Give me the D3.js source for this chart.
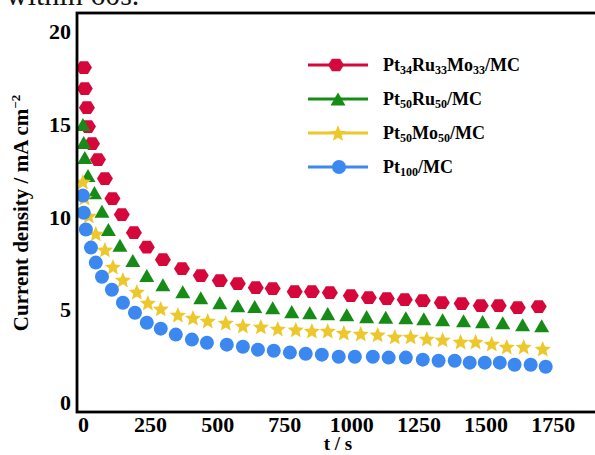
<!DOCTYPE html>
<html>
<head>
<meta charset="utf-8">
<script src="https://cdn.jsdelivr.net/npm/d3@7/dist/d3.min.js"></script>
<style>
  html, body { margin: 0; padding: 0; background: #fff; }
  svg { display: block; }
  text { font-family: "Liberation Serif", "Times New Roman", serif; }
</style>
</head>
<body>
<svg id="chart" width="595" height="455"></svg>
<script>
// Chronoamperometry curves: current density (mA cm^-2) against time (s)
const seriesNames = ["Pt34Ru33Mo33/MC", "Pt50Ru50/MC", "Pt50Mo50/MC", "Pt100/MC"];
const seriesColors = ["#d6083b", "#168c16", "#ecc82c", "#3b88f0"];

const tPtRuMo = [4, 7, 15, 19, 34, 56, 82, 110, 145, 190, 238, 298, 369, 439, 510, 577, 644, 707, 789, 853, 920, 998, 1065, 1132, 1199, 1266, 1337, 1411, 1482, 1549, 1620, 1698];
const jPtRuMo = [18.06, 16.93, 15.90, 14.88, 13.96, 13.10, 12.08, 11.00, 10.14, 9.16, 8.38, 7.71, 7.22, 6.85, 6.58, 6.42, 6.20, 6.15, 5.98, 5.98, 5.93, 5.77, 5.66, 5.61, 5.55, 5.50, 5.39, 5.34, 5.23, 5.23, 5.12, 5.18];

const tPtRu = [0, 3, 7, 19, 43, 71, 95, 138, 186, 238, 298, 372, 439, 510, 577, 640, 707, 778, 845, 912, 983, 1057, 1128, 1203, 1270, 1340, 1418, 1489, 1564, 1638, 1709];
const jPtRu = [14.99, 14.02, 13.21, 12.24, 11.32, 10.32, 9.33, 8.49, 7.66, 6.85, 6.36, 5.98, 5.66, 5.39, 5.23, 5.18, 5.12, 4.91, 4.85, 4.80, 4.74, 4.64, 4.61, 4.58, 4.53, 4.47, 4.42, 4.37, 4.31, 4.20, 4.15];

const tPtMo = [0, 6, 22, 48, 82, 112, 149, 201, 242, 290, 354, 410, 465, 532, 596, 663, 726, 793, 853, 912, 972, 1035, 1098, 1162, 1221, 1281, 1340, 1407, 1463, 1523, 1579, 1642, 1713];
const jPtMo = [11.91, 11.05, 10.08, 9.11, 8.25, 7.33, 6.63, 5.98, 5.39, 5.07, 4.74, 4.58, 4.42, 4.31, 4.15, 4.10, 3.99, 3.94, 3.88, 3.88, 3.77, 3.72, 3.67, 3.56, 3.56, 3.45, 3.40, 3.29, 3.29, 3.18, 3.02, 3.02, 2.91];

const tPt = [0, 3, 11, 30, 48, 71, 108, 149, 194, 238, 290, 346, 406, 462, 536, 596, 652, 711, 771, 830, 890, 953, 1013, 1080, 1139, 1203, 1266, 1325, 1385, 1441, 1497, 1553, 1608, 1668, 1724];
const jPt = [11.16, 10.24, 9.33, 8.36, 7.55, 6.79, 6.09, 5.39, 4.85, 4.31, 3.99, 3.67, 3.40, 3.23, 3.13, 3.02, 2.86, 2.80, 2.70, 2.64, 2.59, 2.48, 2.48, 2.48, 2.43, 2.43, 2.32, 2.26, 2.26, 2.16, 2.16, 2.16, 2.05, 2.05, 1.94];

const xTicks = [0, 250, 500, 750, 1000, 1250, 1500, 1750];
const yTicks = [0, 5, 10, 15, 20];

// marker shapes drawn around their visual centre
const hexagon = { draw(ctx, size) {
  const r = Math.sqrt(size);
  for (let i = 0; i < 6; i++) {
    const a = i * Math.PI / 3;
    const px = r * Math.cos(a), py = r * Math.sin(a) * 0.92;
    i ? ctx.lineTo(px, py) : ctx.moveTo(px, py);
  }
  ctx.closePath();
}};
const triangle = { draw(ctx, size) {
  const w = Math.sqrt(size), h = w * 0.87;
  ctx.moveTo(0, -h / 2); ctx.lineTo(w / 2, h / 2); ctx.lineTo(-w / 2, h / 2); ctx.closePath();
}};
const star = { draw(ctx, size) {
  const R = Math.sqrt(size), rIn = R * 0.45;
  for (let i = 0; i < 10; i++) {
    const rr = i % 2 ? rIn : R;
    const a = -Math.PI / 2 + i * Math.PI / 5;
    const px = rr * Math.cos(a), py = rr * Math.sin(a) + R * 0.1;
    i ? ctx.lineTo(px, py) : ctx.moveTo(px, py);
  }
  ctx.closePath();
}};
const circle = { draw(ctx, size) {
  const r = Math.sqrt(size);
  ctx.moveTo(r, 0); ctx.arc(0, 0, r, 0, 2 * Math.PI);
}};

const series = [
  { name: seriesNames[0], color: seriesColors[0], shape: hexagon, size: 64, t: tPtRuMo, j: jPtRuMo },
  { name: seriesNames[1], color: seriesColors[1], shape: triangle, size: 225, t: tPtRu, j: jPtRu },
  { name: seriesNames[2], color: seriesColors[2], shape: star, size: 72, t: tPtMo, j: jPtMo },
  { name: seriesNames[3], color: seriesColors[3], shape: circle, size: 49, t: tPt, j: jPt }
];

const svg = d3.select("#chart");
const plotLeft = 77, plotTop = 13, plotRight = 601, plotBottom = 412;

const x = d3.scaleLinear().domain([-22, 1930]).range([plotLeft, plotRight]);
const y = d3.scaleLinear().domain([-0.5, 21]).range([plotBottom, plotTop]);

// caption line from the surrounding text, running off the top edge
svg.append("text")
  .attr("x", 6).attr("y", 5)
  .attr("font-size", 30)
  .attr("fill", "#111")
  .text("within 60s.");

svg.append("defs").append("clipPath").attr("id", "plot-clip")
  .append("rect").attr("x", plotLeft).attr("y", plotTop)
  .attr("width", plotRight - plotLeft).attr("height", plotBottom - plotTop);

const marks = svg.append("g").attr("clip-path", "url(#plot-clip)");
series.forEach(s => {
  const pts = s.t.map((t, i) => ({ t, j: s.j[i] }));
  marks.append("g").selectAll("path").data(pts).join("path")
    .attr("transform", d => `translate(${x(d.t)},${y(d.j)})`)
    .attr("d", d3.symbol().type(s.shape).size(s.size))
    .attr("fill", s.color);
});

// frame
svg.append("rect")
  .attr("x", plotLeft).attr("y", plotTop)
  .attr("width", plotRight - plotLeft).attr("height", plotBottom - plotTop)
  .attr("fill", "none").attr("stroke", "#000").attr("stroke-width", 2.8);

// axes (labels only, no tick marks)
const xAxis = svg.append("g").attr("transform", `translate(0,${plotBottom})`)
  .call(d3.axisBottom(x).tickValues(xTicks).tickSize(0).tickPadding(4).tickFormat(d3.format("d")));
const yAxis = svg.append("g").attr("transform", `translate(${plotLeft},0)`)
  .call(d3.axisLeft(y).tickValues(yTicks).tickSize(0).tickPadding(6).tickFormat(d3.format("d")));
[xAxis, yAxis].forEach(g => {
  g.select(".domain").remove();
  g.selectAll("text")
    .attr("font-family", "'Liberation Serif', 'Times New Roman', serif")
    .attr("font-size", 22).attr("font-weight", "bold").attr("fill", "#000");
});

// axis titles
svg.append("text")
  .attr("x", 338).attr("y", 450)
  .attr("text-anchor", "middle")
  .attr("font-size", 19).attr("font-weight", "bold")
  .text("t / s");

const yTitle = svg.append("text")
  .attr("transform", "translate(28,213) rotate(-90)")
  .attr("text-anchor", "middle")
  .attr("font-size", 21).attr("font-weight", "bold");
yTitle.append("tspan").text("Current density / mA cm");
yTitle.append("tspan").attr("font-size", 13).attr("dy", -8).text("\u22122");

// legend
const legendRows = [65, 99, 133, 167];
const legendParts = [
  [["Pt", 0], ["34", 1], ["Ru", 0], ["33", 1], ["Mo", 0], ["33", 1], ["/MC", 0]],
  [["Pt", 0], ["50", 1], ["Ru", 0], ["50", 1], ["/MC", 0]],
  [["Pt", 0], ["50", 1], ["Mo", 0], ["50", 1], ["/MC", 0]],
  [["Pt", 0], ["100", 1], ["/MC", 0]]
];
const legendMarkX = [336, 338, 338, 339];
series.forEach((s, i) => {
  const row = svg.append("g");
  row.append("line")
    .attr("x1", 308).attr("x2", 368)
    .attr("y1", legendRows[i]).attr("y2", legendRows[i])
    .attr("stroke", s.color).attr("stroke-width", 3);
  row.append("path")
    .attr("transform", `translate(${legendMarkX[i]},${legendRows[i]})`)
    .attr("d", d3.symbol().type(s.shape).size(s.size))
    .attr("fill", s.color);
  const label = row.append("text")
    .attr("x", 383).attr("y", legendRows[i] + 6)
    .attr("font-size", 18).attr("font-weight", "bold");
  let shifted = false;
  legendParts[i].forEach(([str, sub]) => {
    const ts = label.append("tspan").text(str);
    if (sub) { ts.attr("font-size", 12).attr("dy", shifted ? 0 : 3); shifted = true; }
    else { ts.attr("dy", shifted ? -3 : 0); shifted = false; }
  });
});
</script>
</body>
</html>
